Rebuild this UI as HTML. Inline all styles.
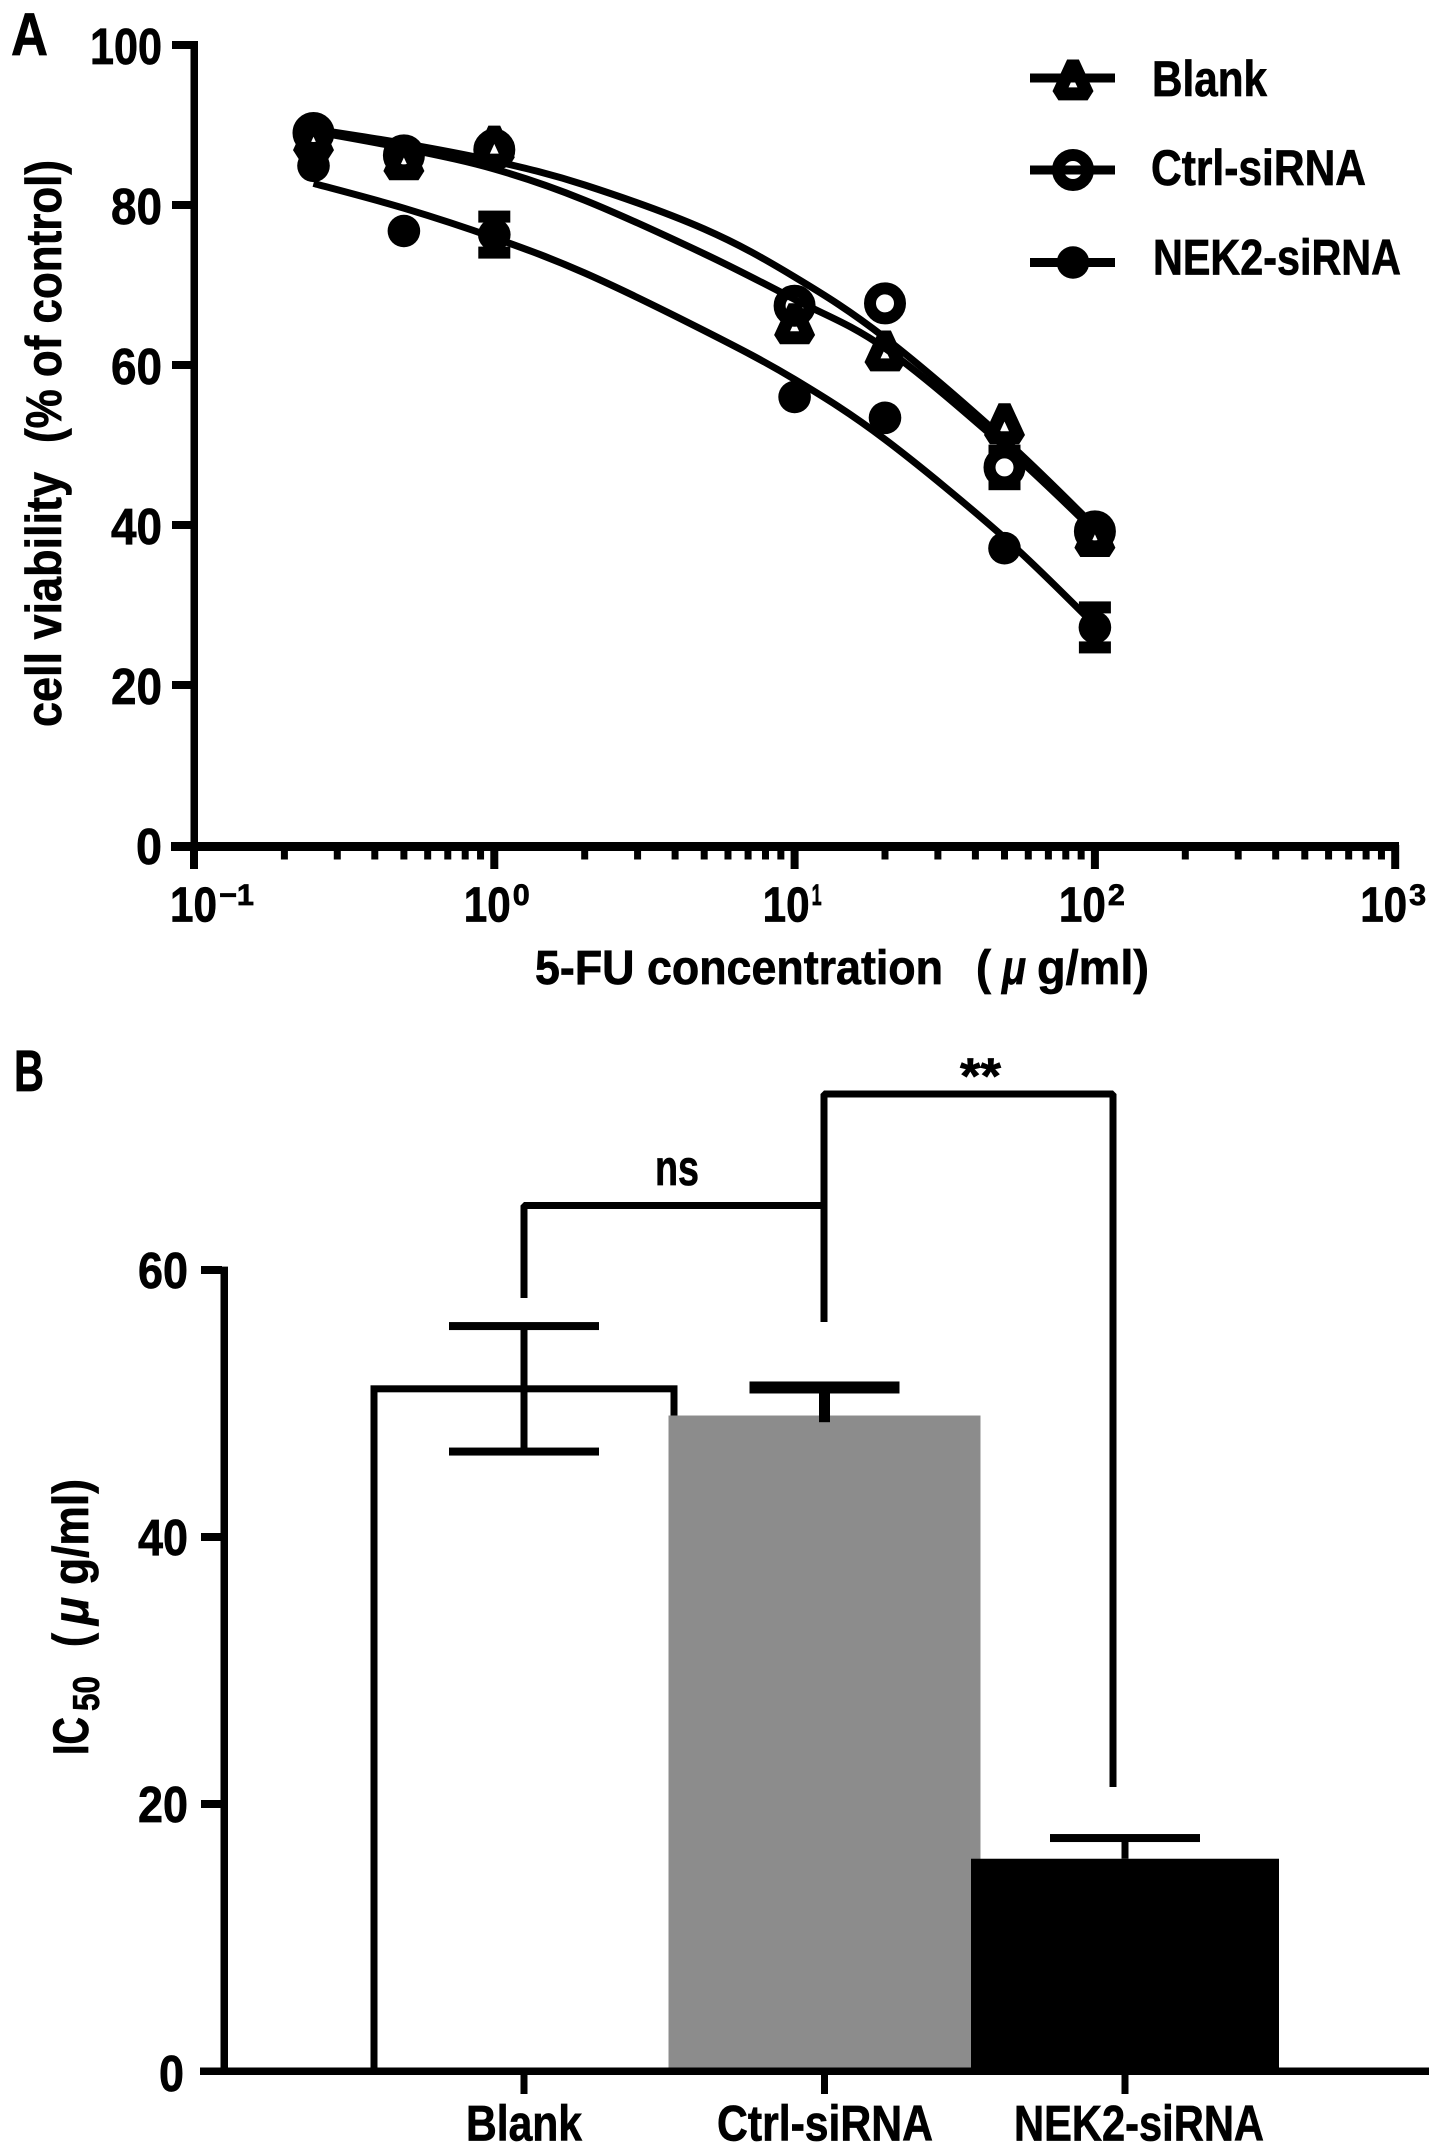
<!DOCTYPE html>
<html lang="en">
<head>
<meta charset="utf-8">
<title>5-FU cell viability and IC50 chart</title>
<style>
html,body{margin:0;padding:0;background:#fff;}
svg{display:block;}
text{font-family:"Liberation Sans",sans-serif;font-weight:700;fill:#000;stroke:#000;stroke-width:0.7px;}
</style>
</head>
<body>
<svg id="figure" xmlns="http://www.w3.org/2000/svg" width="1441" height="2153" viewBox="0 0 1441 2153"></svg>
<script>
// ---------- Panel A data ----------
const concentrations = [0.25, 0.5, 1, 10, 20, 50, 100];
const blankValues = [88.5, 85.9, 87.6, 65.4, 62, 52.9, 38.8];
const ctrlValues = [89, 86.2, 86.9, 67.4, 67.7, 47.2, 39.2];
const nekValues = [84.9, 76.75, 76.3, 56, 53.4, 37.1, 27.2];
const blankErrors = [0, 0, 0, 0, 0, 0, 0];
const ctrlErrors = [0, 0, 0, 0, 0, 2.1, 0];
const nekErrors = [0, 0, 2.25, 0, 0, 0, 2.5];
const curveConcentrations = [0.25, 0.5, 1, 2, 5, 10, 20, 50, 100];
const blankCurve = [89.2, 87.1, 84.5, 80.6, 73.9, 68.2, 62.1, 49.8, 39.2];
const ctrlCurve = [89.5, 87.7, 85.5, 82.5, 77, 71, 63.4, 50.7, 39.8];
const nekCurve = [82.7, 79.6, 75.9, 71.5, 64.3, 58.2, 50.7, 38.4, 27.5];
const viabilityTicks = [0, 20, 40, 60, 80, 100];
const decadeExponents = [-1, 0, 1, 2, 3];
const decadeLabels = ["\u22121", "0", "1", "2", "3"];
const minorMultipliers = [2, 3, 4, 5, 6, 7, 8, 9];

// ---------- Panel B data ----------
const barCategories = ["Blank", "Ctrl-siRNA", "NEK2-siRNA"];
const barValues = [51.1, 49.1, 15.9];
const barUpper = [55.8, 51.2, 17.45];
const barLower = [46.4, 48.6, 15.9];
const icTicks = [0, 20, 40, 60];

const svg = document.getElementById('figure');
const NS = 'http://www.w3.org/2000/svg';

// ---------- Axis functions ----------
function xA(c) { return 194 + (Math.log10(c) + 1) * 300.3; }
function yA(v) { return 845 - v * 8; }
function xB(i) { return 524 + i * 300.5; }
function yB(v) { return 2071 - v * 13.35; }

function rect(name, x, y, w, h, fill) {
  const el = document.createElementNS(NS, 'rect');
  
  
  el.setAttribute('x', x);
  el.setAttribute('y', y);
  el.setAttribute('width', w);
  el.setAttribute('height', h);
  el.setAttribute('fill', fill || '#000');
  svg.appendChild(el);
  return el;
}

function path(name, d, strokeWidth, fill, join) {
  const el = document.createElementNS(NS, 'path');
  
  
  el.setAttribute('d', d);
  el.setAttribute('stroke', '#000');
  el.setAttribute('stroke-width', strokeWidth);
  el.setAttribute('fill', fill || 'none');
  el.setAttribute('stroke-linejoin', join || 'bevel');
  svg.appendChild(el);
  return el;
}

function circle(name, cx, cy, r, strokeWidth, fill) {
  const el = document.createElementNS(NS, 'circle');
  
  
  el.setAttribute('cx', cx);
  el.setAttribute('cy', cy);
  el.setAttribute('r', r);
  el.setAttribute('fill', fill);
  if (strokeWidth) {
    el.setAttribute('stroke', '#000');
    el.setAttribute('stroke-width', strokeWidth);
  }
  svg.appendChild(el);
  return el;
}

// Horizontal text fitted between x1 and x2 on the given baseline
function label(name, str, x1, x2, base, size, italic) {
  const el = document.createElementNS(NS, 'text');
  
  
  el.setAttribute('x', x1);
  el.setAttribute('y', base);
  el.setAttribute('font-size', size);
  el.setAttribute('textLength', x2 - x1);
  el.setAttribute('lengthAdjust', 'spacingAndGlyphs');
  if (italic) { el.setAttribute('font-style', 'italic'); }
  el.textContent = str;
  svg.appendChild(el);
  return el;
}

// Rotated text reading upward from yBottom to yTop, baseline at x
function vlabel(name, str, x, yBottom, yTop, size, italic) {
  const el = document.createElementNS(NS, 'text');
  
  
  el.setAttribute('x', x);
  el.setAttribute('y', yBottom);
  el.setAttribute('font-size', size);
  el.setAttribute('textLength', yBottom - yTop);
  el.setAttribute('lengthAdjust', 'spacingAndGlyphs');
  el.setAttribute('transform', 'rotate(-90 ' + x + ' ' + yBottom + ')');
  if (italic) { el.setAttribute('font-style', 'italic'); }
  el.textContent = str;
  svg.appendChild(el);
  return el;
}

function trianglePath(cx, cy) {
  return 'M' + cx + ' ' + (cy - 15.8) + 'L' + (cx + 14.6) + ' ' + (cy + 15.9) + 'L' + (cx - 14.6) + ' ' + (cy + 15.9) + 'Z';
}

function smoothPath(xs, ys) {
  let d = 'M' + xs[0] + ' ' + ys[0];
  for (let i = 0; i < xs.length - 1; i++) {
    const x0 = xs[Math.max(i - 1, 0)], y0 = ys[Math.max(i - 1, 0)];
    const x1 = xs[i], y1 = ys[i];
    const x2 = xs[i + 1], y2 = ys[i + 1];
    const x3 = xs[Math.min(i + 2, xs.length - 1)], y3 = ys[Math.min(i + 2, xs.length - 1)];
    d += 'C' + (x1 + (x2 - x0) / 6) + ' ' + (y1 + (y2 - y0) / 6) + ' ' + (x2 - (x3 - x1) / 6) + ' ' + (y2 - (y3 - y1) / 6) + ' ' + x2 + ' ' + y2;
  }
  return d;
}

function errorBarA(name, c, v, e) {
  if (!e) { return; }
  const x = xA(c);
  const top = yA(v + e), bottom = yA(v - e);
  rect(name + '-stem', x - 3.5, top, 7, bottom - top, '#000');
  rect(name + '-cap-top', x - 16, top - 6, 32, 12, '#000');
  rect(name + '-cap-bottom', x - 16, bottom - 6, 32, 12, '#000');
}

// ---------- Panel A ----------
label('panel-a-label', 'A', 11, 48, 55, 60);

// Markers (open circles carry a white centre; triangles sit over them)
concentrations.forEach(function (c, i) {
  errorBarA('ctrl-error-bar-' + i, c, ctrlValues[i], ctrlErrors[i]);
  circle('ctrl-point-' + i, xA(c), yA(ctrlValues[i]), 15, 12, '#fff');
});
concentrations.forEach(function (c, i) {
  errorBarA('blank-error-bar-' + i, c, blankValues[i], blankErrors[i]);
  path('blank-point-' + i, trianglePath(xA(c), yA(blankValues[i])), 13, 'none');
});
concentrations.forEach(function (c, i) {
  errorBarA('nek-error-bar-' + i, c, nekValues[i], nekErrors[i]);
  circle('nek-point-' + i, xA(c), yA(nekValues[i]), 16.3, 0, '#000');
});

// Fit curves
const curveXs = curveConcentrations.map(xA);
path('blank-fit-curve', smoothPath(curveXs, blankCurve.map(yA)), 7, 'none', 'round');
path('ctrl-fit-curve', smoothPath(curveXs, ctrlCurve.map(yA)), 7, 'none', 'round');
path('nek-fit-curve', smoothPath(curveXs, nekCurve.map(yA)), 7, 'none', 'round');

// Y axis
rect('viability-y-axis', 190.5, 41, 7.5, 828, '#000');
viabilityTicks.forEach(function (t) {
  const y = yA(t);
  if (t > 0) { rect('viability-y-tick-' + t, 172, y - 4, 20, 8, '#000'); }
  const s = String(t);
  const left = s.length === 3 ? 90 : (s.length === 2 ? 111 : 136);
  label('viability-y-tick-label-' + t, s, left, 162, y + 19, 51);
});
vlabel('viability-y-title-main', 'cell viability', 61, 727, 472, 50);
vlabel('viability-y-title-unit', '(% of control)', 61, 443, 160, 50);

// X axis
rect('concentration-x-axis', 171, 842, 1228, 9, '#000');
const decadeLabelOffset = { '-1': -24, '0': -30.5, '1': -32, '2': -36, '3': -35 };
const exponentWidth = { '-1': 35, '0': 17, '1': 10, '2': 17, '3': 17 };
decadeExponents.forEach(function (ex, i) {
  const x = xA(Math.pow(10, ex));
  rect('concentration-x-tick-major-' + ex, x - 4, 845, 8, 24, '#000');
  if (ex < 3) {
    minorMultipliers.forEach(function (m) {
      rect('concentration-x-tick-minor-' + ex + '-' + m, xA(m * Math.pow(10, ex)) - 3.5, 848, 7, 11.5, '#000');
    });
  }
  const left = x + decadeLabelOffset[ex];
  label('concentration-x-tick-base-' + ex, '10', left, left + 47, 921.5, 49);
  label('concentration-x-tick-exponent-' + ex, decadeLabels[i], left + 49, left + 49 + exponentWidth[ex], 905, 30);
});
label('concentration-x-title-main', '5-FU concentration', 535, 943, 984, 48);
label('concentration-x-title-open-paren', '(', 976, 991, 984, 48);
label('concentration-x-title-mu', '\u03BC', 1002, 1026, 984, 48, true);
label('concentration-x-title-unit', 'g/ml)', 1037, 1149, 984, 48);

// Legend
path('legend-blank-marker', trianglePath(1073, 78), 13, 'none');
rect('legend-blank-line', 1030, 73.5, 85, 9, '#000');
label('legend-blank-label', 'Blank', 1152, 1267, 96, 50);
circle('legend-ctrl-marker', 1073, 170, 15, 12, 'none');
rect('legend-ctrl-line', 1030, 165.5, 85, 9, '#000');
label('legend-ctrl-label', 'Ctrl-siRNA', 1151, 1366, 185, 50);
circle('legend-nek-marker', 1073, 262.5, 16.3, 0, '#000');
rect('legend-nek-line', 1030, 258, 85, 9, '#000');
label('legend-nek-label', 'NEK2-siRNA', 1153, 1401, 274.5, 50);

// ---------- Panel B ----------
label('panel-b-label', 'B', 14, 44, 1091, 58);

// Bars
const blankBar = rect('bar-blank', xB(0) - 150, yB(barValues[0]), 300, 2071 - yB(barValues[0]), '#fff');
blankBar.setAttribute('stroke', '#000');
blankBar.setAttribute('stroke-width', 7);
rect('bar-ctrl-sirna', xB(1) - 156, yB(barValues[1]), 312, 2071 - yB(barValues[1]), '#8c8c8c');
rect('bar-nek2-sirna', xB(2) - 154, yB(barValues[2]), 308, 2071 - yB(barValues[2]), '#000');

// Bar error bars
const stemWidth = { 0: 7, 1: 11, 2: 7 };
const capHeight = { 0: 8, 1: 12, 2: 8 };
barCategories.forEach(function (cat, i) {
  const cx = xB(i);
  const top = yB(barUpper[i]);
  const bottom = yB(barLower[i]);
  rect('bar-error-stem-' + i, cx - stemWidth[i] / 2, top, stemWidth[i], bottom - top, '#000');
  rect('bar-error-cap-top-' + i, cx - 75, top - capHeight[i] / 2, 150, capHeight[i], '#000');
  if (i === 0) {
    rect('bar-error-cap-bottom-' + i, cx - 75, bottom - 4, 150, 8, '#000');
  }
});

// Y axis
rect('ic50-y-axis', 220.5, 1266.6, 7.5, 808, '#000');
icTicks.forEach(function (t) {
  const y = yB(t);
  if (t > 0) { rect('ic50-y-tick-' + t, 201, y - 4, 21, 8, '#000'); }
  const s = String(t);
  label('ic50-y-tick-label-' + t, s, t === 0 ? 159 : 138, t === 0 ? 184 : 188, y + (t === 0 ? 20 : 18), 51);
});
vlabel('ic50-y-title-ic', 'IC', 88, 1755, 1717, 50);
vlabel('ic50-y-title-subscript', '50', 99, 1711, 1676, 37);
vlabel('ic50-y-title-open-paren', '(', 88, 1647, 1633, 50);
vlabel('ic50-y-title-mu', '\u03BC', 88, 1625, 1597, 50, true);
vlabel('ic50-y-title-unit', 'g/ml)', 88, 1585, 1479, 50);

// X axis
rect('ic50-x-axis', 200, 2067.5, 1229, 7.5, '#000');
const catLeft = { 0: 466, 1: 717, 2: 1014 };
const catRight = { 0: 582, 1: 933, 2: 1264 };
barCategories.forEach(function (cat, i) {
  rect('ic50-x-tick-' + i, xB(i) - 3.5, 2070, 7, 24, '#000');
  label('ic50-x-tick-label-' + i, cat, catLeft[i], catRight[i], 2140.5, 50);
});

// Significance brackets
path('ns-bracket', 'M524 1298V1205.5H824', 7, 'none');
path('double-star-bracket', 'M824 1322V1094H1113V1787', 7, 'none');
label('ns-label', 'ns', 655, 699, 1185, 50);
label('double-star-label', '**', 960, 1001, 1093, 50);
</script>
</body>
</html>
